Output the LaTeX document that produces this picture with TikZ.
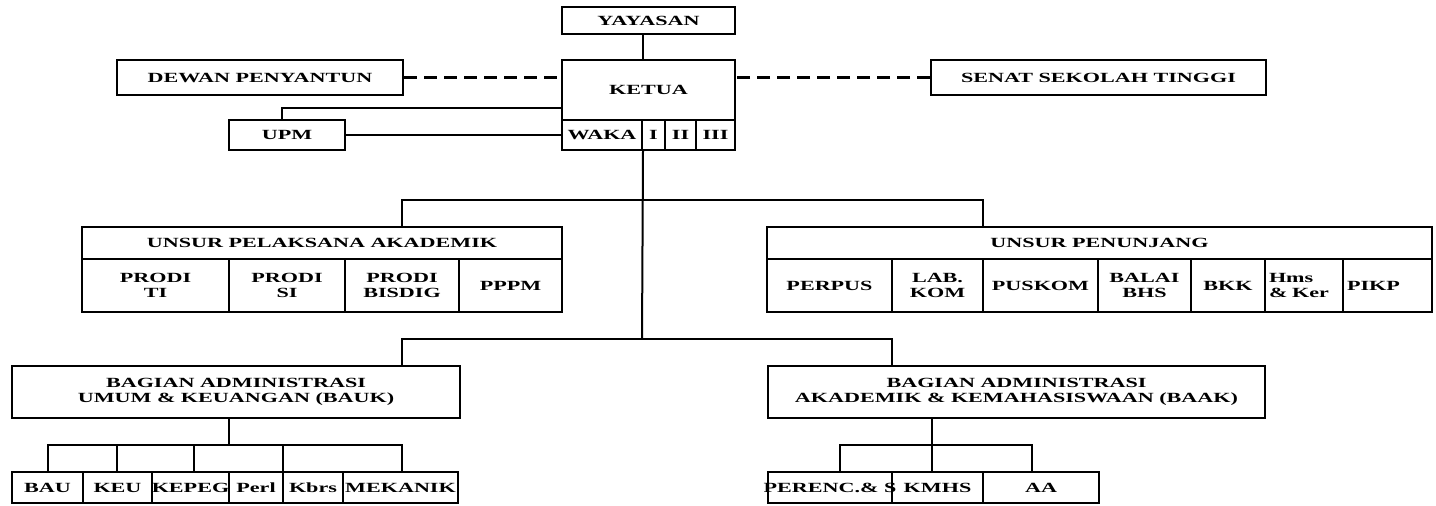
\documentclass[tikz,border=0pt]{standalone}
\usepackage{fontspec}
\setmainfont{Liberation Serif}[FakeStretch=1.58]
\begin{document}
\begin{tikzpicture}[x=0.5pt,y=-0.5pt,line width=1pt,
  box/.style={draw,line width=1pt,inner sep=0pt,align=center,
    font=\bfseries\fontsize{7}{7.6}\selectfont},
  leftbox/.style={box,align=left,inner xsep=2pt},
  link/.style={line width=1pt},
  dashlink/.style={line width=1.5pt,dash pattern=on 6.5pt off 3.5pt}]
\useasboundingbox (0,0) rectangle (1436,505);
\newcommand\obox[7][]{\node[box,#1,minimum width={(#5-#3)*0.5pt},minimum height={(#6-#4)*0.5pt}] (#2) at ({(#3+#5)/2},{(#4+#6)/2}) {#7};}
\newcommand\lbox[6]{\node[leftbox,text width={(#4-#2)*0.5pt-4pt},minimum height={(#5-#3)*0.5pt}] (#1) at ({(#2+#4)/2},{(#3+#5)/2}) {#6};}
% top
\obox{yay}{562}{7}{735}{34}{YAYASAN}
\obox{ket}{562}{60}{735}{120}{KETUA}
\obox{waka}{562}{120}{642}{150}{WAKA}
\obox{w1}{642}{120}{665}{150}{I}
\obox{w2}{665}{120}{696}{150}{II}
\obox{w3}{696}{120}{735}{150}{III}
\obox{dew}{117}{60}{403}{95}{DEWAN PENYANTUN}
\obox{sen}{931}{60}{1266}{95}{SENAT SEKOLAH TINGGI}
\obox{upm}{229}{120}{345}{150}{UPM}
% unsur pelaksana
\obox{upa}{82}{227}{562}{259}{UNSUR PELAKSANA AKADEMIK}
\obox{pti}{82}{259}{229}{312}{PRODI\\TI}
\obox{psi}{229}{259}{345}{312}{PRODI\\SI}
\obox{pbd}{345}{259}{459}{312}{PRODI\\BISDIG}
\obox{ppm}{459}{259}{562}{312}{PPPM}
% unsur penunjang
\obox{upn}{767}{227}{1432}{259}{UNSUR PENUNJANG}
\obox{per}{767}{259}{892}{312}{PERPUS}
\obox{lab}{892}{259}{983}{312}{LAB.\\KOM}
\obox{pus}{983}{259}{1098}{312}{PUSKOM}
\obox{bal}{1098}{259}{1191}{312}{BALAI\\BHS}
\obox{bkk}{1191}{259}{1265}{312}{BKK}
\lbox{hms}{1265}{259}{1343}{312}{Hms\\\& Ker}
\lbox{pik}{1343}{259}{1432}{312}{PIKP}
% administrasi
\obox{bauk}{12}{366}{460}{418}{BAGIAN ADMINISTRASI\\UMUM \& KEUANGAN (BAUK)}
\obox{baak}{768}{366}{1265}{418}{BAGIAN ADMINISTRASI\\AKADEMIK \& KEMAHASISWAAN (BAAK)}
\obox{bau}{12}{472}{83}{503}{BAU}
\obox{keu}{83}{472}{152}{503}{KEU}
\obox{kep}{152}{472}{229}{503}{\makebox[0pt]{KEPEG}}
\obox{perl}{229}{472}{283}{503}{Perl}
\obox{kbr}{283}{472}{343}{503}{Kbrs}
\obox{mek}{343}{472}{458}{503}{\makebox[0pt]{MEKANIK}}
\obox{pre}{768}{472}{892}{503}{\makebox[0pt]{PERENC.\& S}}
\obox{kmh}{892}{472}{983}{503}{KMHS}
\obox{aa}{983}{472}{1099}{503}{AA}
% junction coordinates
\coordinate (u1) at (282,108);
\coordinate (j2) at (642,339);
\coordinate (a1) at (402,200);
\coordinate (a2) at (983,200);
\coordinate (b1) at (402,339);
\coordinate (b2) at (892,339);
\coordinate (c0) at (229,445);
\coordinate (cL) at (48,445);
\coordinate (c2) at (117,445);
\coordinate (c3) at (194,445);
\coordinate (c4) at (283,445);
\coordinate (cR) at (402,445);
\coordinate (d0) at (932,445);
\coordinate (dL) at (840,445);
\coordinate (dR) at (1032,445);
% connectors
\draw[link] (yay.south -| waka.east) -- (ket.north -| waka.east);
\draw[dashlink] (dew.east) -- (dew.east -| ket.west);
\draw[dashlink] (sen.west) -- (sen.west -| ket.east);
\draw[link] (u1 -| ket.west) -- (u1) -- (u1 |- upm.north);
\draw[link] (upm.east) -- (waka.west);
\draw[link] (waka.south east) -- (j2);
\draw[link] (a1 |- upa.north) -- (a1) -- (a2) -- (a2 |- upn.north);
\draw[link] (b1 |- bauk.north) -- (b1) -- (b2) -- (b2 |- baak.north);
\draw[link] (c0 |- bauk.south) -- (c0);
\draw[link] (cL |- bau.north) -- (cL) -- (cR) -- (cR |- mek.north);
\draw[link] (c2) -- (c2 |- keu.north);
\draw[link] (c3) -- (c3 |- kep.north);
\draw[link] (c4) -- (c4 |- kbr.north);
\draw[link] (d0 |- baak.south) -- (d0);
\draw[link] (dL |- pre.north) -- (dL) -- (dR) -- (dR |- aa.north);
\draw[link] (d0) -- (d0 |- kmh.north);
\end{tikzpicture}
\end{document}
